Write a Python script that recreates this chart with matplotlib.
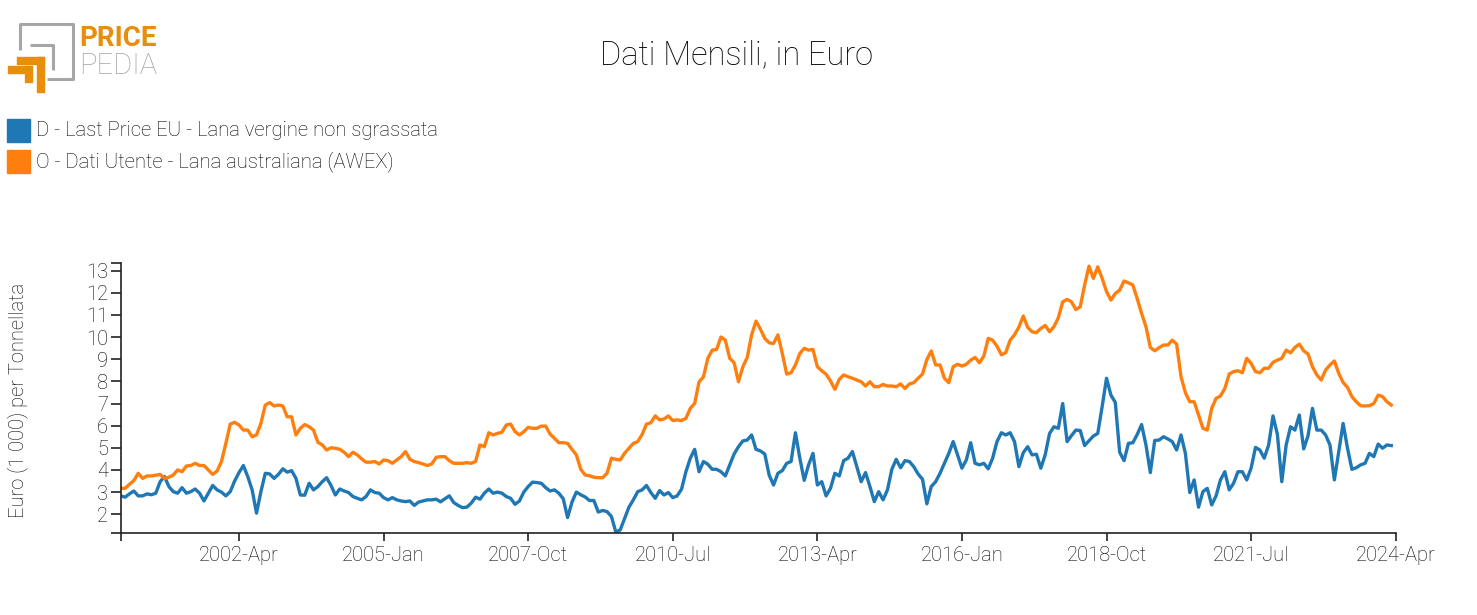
import matplotlib
matplotlib.use("Agg")
import matplotlib.pyplot as plt
from matplotlib.patches import Rectangle
from matplotlib.lines import Line2D
import numpy as np

# ---- data (monthly, Jan 2000 .. Mar 2024), Euro (1 000) per tonne ----
start_year, start_month = 2000, 1
tick_labels = ["2002-Apr", "2005-Jan", "2007-Oct", "2010-Jul", "2013-Apr",
               "2016-Jan", "2018-Oct", "2021-Jul", "2024-Apr"]
tick_months = [27, 60, 93, 126, 159, 192, 225, 258, 291]
series_names = ["D - Last Price EU - Lana vergine non sgrassata",
                "O - Dati Utente - Lana australiana (AWEX)"]

blue = [2.83, 2.77, 2.92, 3.05, 2.83, 2.83, 2.92, 2.88, 2.95, 3.47,
        3.70, 3.25, 3.02, 2.95, 3.20, 2.95, 3.02, 3.14, 2.95, 2.60,
        2.95, 3.30, 3.10, 3.00, 2.83, 3.02, 3.50, 3.88, 4.20, 3.70,
        3.10, 2.05, 3.02, 3.85, 3.82, 3.62, 3.80, 4.05, 3.90, 3.97,
        3.62, 2.87, 2.86, 3.40, 3.10, 3.25, 3.47, 3.65, 3.30, 2.87,
        3.14, 3.05, 2.98, 2.80, 2.72, 2.65, 2.80, 3.10, 2.98, 2.95,
        2.75, 2.65, 2.75, 2.65, 2.60, 2.57, 2.60, 2.40, 2.55, 2.60,
        2.65, 2.65, 2.68, 2.56, 2.70, 2.83, 2.53, 2.40, 2.30, 2.32,
        2.50, 2.77, 2.68, 2.95, 3.14, 2.95, 3.00, 2.95, 2.80, 2.72,
        2.45, 2.60, 3.00, 3.25, 3.45, 3.43, 3.40, 3.20, 3.05, 3.10,
        2.95, 2.70, 1.85, 2.55, 3.00, 2.88, 2.78, 2.62, 2.62, 2.10,
        2.17, 2.12, 1.90, 1.20, 1.29, 1.80, 2.32, 2.65, 3.02, 3.10,
        3.30, 2.98, 2.72, 3.07, 2.87, 2.98, 2.75, 2.83, 3.13, 3.92,
        4.53, 4.93, 3.92, 4.38, 4.26, 4.03, 4.03, 3.92, 3.73, 4.23,
        4.72, 5.05, 5.31, 5.35, 5.58, 4.93, 4.86, 4.72, 3.77, 3.32,
        3.85, 3.97, 4.30, 4.38, 5.68, 4.53, 3.53, 4.23, 4.75, 3.32,
        3.47, 2.83, 3.17, 3.85, 3.73, 4.42, 4.53, 4.83, 4.15, 3.47,
        3.88, 3.25, 2.57, 3.02, 2.65, 3.10, 4.03, 4.48, 4.10, 4.42,
        4.38, 4.15, 3.82, 3.58, 2.47, 3.25, 3.47, 3.85, 4.30, 4.75,
        5.28, 4.68, 4.08, 4.45, 5.23, 4.30, 4.23, 4.30, 4.05, 4.53,
        5.28, 5.68, 5.58, 5.68, 5.28, 4.15, 4.78, 5.05, 4.68, 4.71,
        4.08, 4.68, 5.65, 5.95, 5.88, 7.00, 5.28, 5.55, 5.80, 5.78,
        5.10, 5.32, 5.53, 5.65, 6.86, 8.14, 7.38, 7.05, 4.80, 4.42,
        5.20, 5.23, 5.60, 6.05, 5.13, 3.88, 5.33, 5.35, 5.50, 5.40,
        5.28, 4.90, 5.58, 4.75, 2.98, 3.55, 2.32, 3.02, 3.17, 2.42,
        2.83, 3.55, 3.92, 3.10, 3.40, 3.92, 3.92, 3.55, 4.08, 5.02,
        4.90, 4.53, 5.13, 6.44, 5.60, 3.47, 5.13, 5.95, 5.80, 6.48,
        4.95, 5.55, 6.78, 5.80, 5.80, 5.58, 5.13, 3.55, 4.83, 6.10,
        4.98, 4.03, 4.10, 4.23, 4.30, 4.75, 4.60, 5.17, 4.98, 5.13,
        5.10]

orange = [3.17, 3.17, 3.35, 3.52, 3.85, 3.62, 3.73, 3.73, 3.76, 3.80,
          3.62, 3.67, 3.77, 4.00, 3.92, 4.18, 4.20, 4.30, 4.20, 4.20,
          4.00, 3.80, 3.95, 4.38, 5.20, 6.07, 6.15, 6.03, 5.80, 5.80,
          5.50, 5.58, 6.10, 6.93, 7.04, 6.89, 6.93, 6.89, 6.40, 6.40,
          5.58, 5.88, 6.05, 5.95, 5.80, 5.25, 5.13, 4.90, 5.00, 4.98,
          4.93, 4.80, 4.60, 4.80, 4.68, 4.50, 4.35, 4.35, 4.38, 4.27,
          4.45, 4.42, 4.30, 4.45, 4.60, 4.83, 4.48, 4.38, 4.33, 4.27,
          4.20, 4.27, 4.57, 4.60, 4.60, 4.42, 4.30, 4.30, 4.30, 4.33,
          4.30, 4.38, 5.13, 5.05, 5.68, 5.58, 5.65, 5.70, 6.03, 6.07,
          5.73, 5.58, 5.73, 5.92, 5.88, 5.88, 5.98, 5.98, 5.62, 5.43,
          5.23, 5.23, 5.20, 4.93, 4.68, 4.03, 3.77, 3.74, 3.67, 3.65,
          3.65, 3.85, 4.53, 4.48, 4.45, 4.75, 4.98, 5.20, 5.28, 5.60,
          6.07, 6.13, 6.44, 6.26, 6.30, 6.44, 6.23, 6.26, 6.23, 6.33,
          6.78, 7.00, 7.98, 8.20, 9.04, 9.41, 9.44, 10.00, 9.86, 9.04,
          8.84, 7.98, 8.66, 9.08, 10.10, 10.72, 10.36, 9.94, 9.74, 9.71,
          10.10, 9.26, 8.33, 8.39, 8.74, 9.26, 9.49, 9.41, 9.44, 8.66,
          8.48, 8.32, 8.02, 7.64, 8.09, 8.29, 8.21, 8.14, 8.06, 7.98,
          7.79, 7.98, 7.76, 7.76, 7.86, 7.79, 7.79, 7.76, 7.88, 7.68,
          7.88, 7.94, 8.14, 8.33, 8.99, 9.37, 8.74, 8.74, 8.14, 7.94,
          8.66, 8.77, 8.69, 8.77, 8.96, 9.08, 8.84, 9.14, 9.94, 9.86,
          9.59, 9.20, 9.30, 9.86, 10.10, 10.45, 10.95, 10.44, 10.24, 10.20,
          10.39, 10.52, 10.24, 10.47, 10.87, 11.59, 11.70, 11.59, 11.24, 11.37,
          12.35, 13.20, 12.65, 13.17, 12.65, 12.05, 11.67, 11.97, 12.12, 12.53,
          12.45, 12.35, 11.74, 11.07, 10.47, 9.53, 9.38, 9.52, 9.64, 9.64,
          9.86, 9.68, 8.21, 7.49, 7.08, 7.08, 6.48, 5.88, 5.80, 6.78,
          7.23, 7.34, 7.68, 8.33, 8.44, 8.48, 8.39, 9.04, 8.81, 8.44,
          8.39, 8.59, 8.59, 8.86, 8.96, 9.04, 9.41, 9.29, 9.53, 9.68,
          9.38, 9.23, 8.66, 8.29, 8.06, 8.51, 8.74, 8.92, 8.36, 7.95,
          7.73, 7.31, 7.08, 6.90, 6.89, 6.90, 7.00, 7.38, 7.31, 7.08,
          6.93]

BLUE = "#1f77b4"
ORANGE = "#ff7f0e"
FONT = ["Roboto", "DejaVu Sans"]
plt.rcParams["font.family"] = FONT
TXT = "#000000"

W, H = 1477, 615
fig = plt.figure(figsize=(W / 100, H / 100), dpi=100)

def fx(px):
    return px / W

def fy(py):
    return 1 - py / H

# axes placement (pixels)
L, R, T, B = 120.7, 1395.7, 263.3, 533.3
ax = fig.add_axes([fx(L), fy(B), fx(R - L), (B - T) / H])

months = np.arange(len(blue))
ax.plot(months, blue, color=BLUE, lw=2.4, solid_joinstyle="round")
ax.plot(months, orange, color=ORANGE, lw=2.4, solid_joinstyle="round")

ymin = min(min(blue), min(orange))
ymax = max(max(blue), max(orange))
ax.set_ylim(ymin - 0.06, ymax + 0.13)
ax.set_xlim(0, 291)

for s in ["top", "right"]:
    ax.spines[s].set_visible(False)
for s in ["left", "bottom"]:
    ax.spines[s].set_color("#222222")
    ax.spines[s].set_linewidth(1.2)

ax.set_yticks(range(2, 14))
ax.set_yticks([ax.get_ylim()[0], ax.get_ylim()[1]], minor=True)
ax.set_xticks(tick_months)
ax.set_xticklabels(tick_labels)
ax.set_xticks([0], minor=True)
ax.tick_params(axis="y", which="both", length=7, width=1.2, color="#222222",
               labelsize=14.5, pad=2, labelcolor=TXT)
ax.tick_params(axis="x", which="both", length=6, width=1.2, color="#222222",
               labelsize=14.5, pad=3, labelcolor=TXT)
for lab in ax.get_xticklabels() + ax.get_yticklabels():
    lab.set_fontweight("light")

fig.text(fx(17.5), fy(400), "Euro (1 000) per Tonnellata", rotation=90,
         ha="center", va="center", fontsize=14.5, color=TXT,
         fontweight="light")

# title
fig.text(fx(737), fy(55), "Dati Mensili, in Euro", ha="center", va="center",
         fontsize=23.5, color=TXT, fontweight="light")

# legend
for i, (name, col) in enumerate(zip(series_names, [BLUE, ORANGE])):
    y0 = 119 + i * 31
    fig.patches.append(Rectangle((fx(7), fy(y0 + 23)), fx(23), 23 / H,
                                 transform=fig.transFigure, color=col,
                                 zorder=3))
    fig.text(fx(36), fy(y0 + 12), name, ha="left", va="center",
             fontsize=14.6, color=TXT, fontweight="light")

# logo
GRAY = "#a6a6a6"
LOGO_OR = "#e88d0c"
def pline(xs, ys, col, lw):
    fig.add_artist(Line2D([fx(x) for x in xs], [fy(y) for y in ys],
                          transform=fig.transFigure, color=col, lw=lw,
                          solid_capstyle="butt"))
pline([20, 20, 73, 73, 47], [50, 24, 24, 79, 79], GRAY, 2.2)
pline([30, 53, 53], [45, 45, 70], GRAY, 2.2)
def prect(x0, y0, w, h, col):
    fig.patches.append(Rectangle((fx(x0), fy(y0 + h)), fx(w), h / H,
                                 transform=fig.transFigure, color=col))
prect(17, 57, 27, 6.5, LOGO_OR)
prect(37, 57, 7, 35, LOGO_OR)
prect(8, 66, 23, 6.5, LOGO_OR)
prect(25, 66, 6.5, 16, LOGO_OR)
fig.text(fx(79), fy(39), "PRICE", ha="left", va="center", fontsize=20,
         fontweight="bold", color=LOGO_OR)
fig.text(fx(79), fy(66), "PEDIA", ha="left", va="center", fontsize=21,
         fontweight="light", color=GRAY)

fig.savefig("out.png", dpi=100)
